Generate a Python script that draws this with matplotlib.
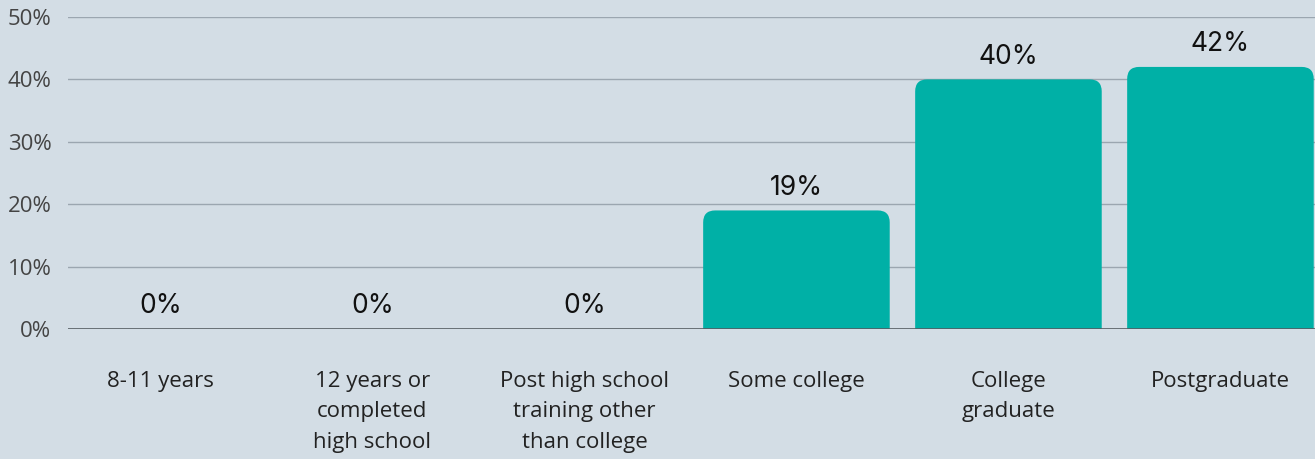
import matplotlib
matplotlib.use("Agg")
import matplotlib.pyplot as plt
from matplotlib.path import Path
import matplotlib.patches as patches

categories = ["8-11 years", "12 years or\ncompleted\nhigh school",
              "Post high school\ntraining other\nthan college", "Some college",
              "College\ngraduate", "Postgraduate"]
values = [0, 0, 0, 19, 40, 42]
yticks = [0, 10, 20, 30, 40, 50]

bg = "#d3dde5"
teal = "#00b0a6"

fig = plt.figure(figsize=(13.15, 4.59), dpi=100, facecolor=bg)
ax = fig.add_axes([68 / 1315, 130 / 459, 1 - 68 / 1315, (442 - 130) / 459])
ax.set_facecolor(bg)

x = list(range(len(categories)))
bars = ax.bar(x, values, width=0.88, color=teal, zorder=3)
ax.set_xlim(-0.436, 5.446)
ax.set_ylim(0, 50)

# swap plain bars for ones with rounded top corners (radius ~12 px)
fig.canvas.draw()
px_x = ax.transData.transform((1, 0))[0] - ax.transData.transform((0, 0))[0]
px_y = ax.transData.transform((0, 1))[1] - ax.transData.transform((0, 0))[1]
rx, ry = 12 / px_x, 12 / px_y
for b in bars:
    h = b.get_height()
    if h <= 0:
        b.set_visible(False)
        continue
    x0, w = b.get_x(), b.get_width()
    x1 = x0 + w
    r_y = min(ry, h)
    verts = [(x0, 0), (x0, h - r_y), (x0, h), (x0 + rx, h),
             (x1 - rx, h), (x1, h), (x1, h - r_y), (x1, 0), (x0, 0)]
    codes = [Path.MOVETO, Path.LINETO, Path.CURVE3, Path.CURVE3,
             Path.LINETO, Path.CURVE3, Path.CURVE3, Path.LINETO, Path.CLOSEPOLY]
    ax.add_patch(patches.PathPatch(Path(verts, codes), facecolor=teal,
                                   edgecolor="none", zorder=3))
    b.set_visible(False)

for xi, v in zip(x, values):
    ax.annotate(f"{v}%", (xi, v), xytext=(0, 7), textcoords="offset points",
                ha="center", va="bottom", fontsize=19, family="Inter",
                color="#111111", zorder=4)

ax.set_yticks(yticks)
ax.set_yticklabels([f"{t}%" for t in yticks], family="Open Sans",
                   fontsize=16, color="#444444")
ax.set_xticks(x)
ax.set_xticklabels(categories, family="Open Sans", fontsize=16,
                   color="#222222", linespacing=1.6)
ax.tick_params(axis="both", length=0)
ax.tick_params(axis="y", pad=12)
ax.tick_params(axis="x", pad=30)

for t in yticks[1:]:
    ax.axhline(t, color="#9ba6b0", lw=1, zorder=1)
ax.axhline(0, color="#555d63", lw=1.2, zorder=4)

for s in ax.spines.values():
    s.set_visible(False)

fig.savefig("out.png", dpi=100, facecolor=bg)
